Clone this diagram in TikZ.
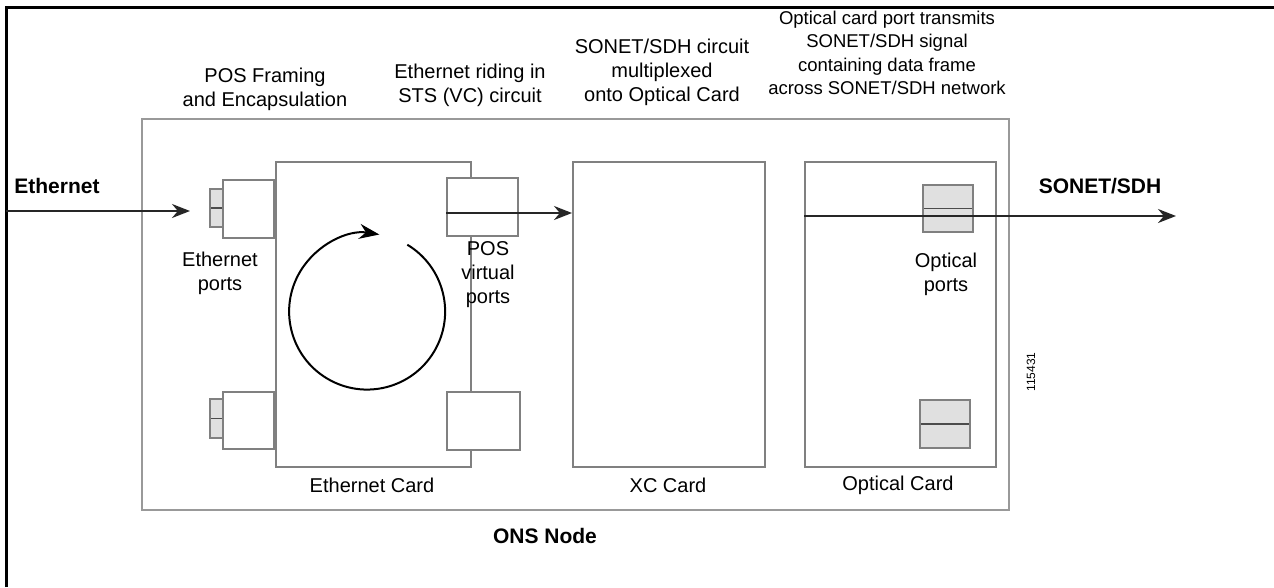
\documentclass[tikz,border=0pt]{standalone}
\usepackage{fontspec}
\setmainfont{Liberation Sans}
\usetikzlibrary{arrows.meta}
\begin{document}
\begin{tikzpicture}[x=1pt,y=-1pt,
  box/.style={draw=black!50, line width=1.6pt, fill=white, inner sep=0pt, anchor=north west},
  outerbox/.style={draw=black!40, line width=1.6pt, inner sep=0pt, anchor=north west},
  tab/.style={draw=black!50, line width=1.6pt, fill=black!12, inner sep=0pt, anchor=north west,
     path picture={\draw[black!70, line width=1.5pt] (path picture bounding box.west) -- (path picture bounding box.east);}},
  lbl/.style={font=\fontsize{20}{24}\selectfont, align=center, inner sep=0pt},
  blbl/.style={font=\fontsize{21}{24}\selectfont\bfseries, inner sep=0pt},
  sig/.style={draw=black!85, line width=2pt, -{Stealth[length=18pt,width=14pt]}},
  frame/.style={draw=black, line width=3pt}
]
\useasboundingbox (0,0) rectangle (1274,587);
\fill[white] (0,0) rectangle (1274,587);
\coordinate (fbl) at (6,587);
\coordinate (ftl) at (6,7);
\coordinate (ftr) at (1274,7);
\draw[frame] (fbl) -- (ftl) -- (ftr);

% ONS node
\node[outerbox, minimum width=867pt, minimum height=391pt] (ons) at (141,118) {};

% cards
\node[box, minimum width=195pt, minimum height=305pt] (ethcard) at (275,161) {};
\node[box, minimum width=192pt, minimum height=305pt] (xccard) at (572,161) {};
\node[box, minimum width=191pt, minimum height=305pt] (optcard) at (804,161) {};

% ethernet ports
\node[box, minimum width=51pt, minimum height=58pt] (ep1) at (222,179) {};
\node[tab, minimum width=13pt, minimum height=38pt] (et1) at (209,188) {};
\node[box, minimum width=51pt, minimum height=57pt] (ep2) at (222,391) {};
\node[tab, minimum width=13pt, minimum height=39pt] (et2) at (209,398) {};

% POS virtual ports
\node[box, minimum width=71pt, minimum height=58pt] (pos1) at (446,177) {};
\node[box, minimum width=73pt, minimum height=58pt] (pos2) at (446,391) {};

% optical ports
\node[tab, minimum width=50pt, minimum height=47pt] (op1) at (922,184) {};
\node[tab, minimum width=50pt, minimum height=48pt] (op2) at (919,399) {};

% circle with arrow
\draw[black, line width=2pt, -{Stealth[length=20pt,width=15pt]}] (407.3,244.7) arc[start angle=-59, end angle=279, radius=78];

% arrows
\coordinate (ethy) at (0,211);
\coordinate (ethtip) at (190,211);
\draw[sig] (ftl |- ethy) -- (ethtip);
\coordinate (posy) at (0,213);
\draw[sig] (pos1.west |- posy) -- (xccard.west |- posy);
\coordinate (sony) at (0,216);
\coordinate (sontip) at (1176,216);
\draw[sig] (optcard.west |- sony) -- (sontip);

% labels
\node[lbl] (t1) at (265,89) {POS Framing\\and Encapsulation};
\node[lbl] (t2) at (470,85) {Ethernet riding in\\STS (VC) circuit};
\node[lbl] (t3) at (662,72) {SONET/SDH circuit\\multiplexed\\onto Optical Card};
\node[lbl, font=\fontsize{18.5}{23.5}\selectfont] (t4) at (887,53) {Optical card port transmits\\SONET/SDH signal\\containing data frame\\across SONET/SDH network};

\node[blbl] (leth) at (57,186) {Ethernet};
\node[blbl] (lson) at (1100,186) {SONET/SDH};

\node[lbl] (lep) at (220,273) {Ethernet\\ports};
\node[lbl] (lpos) at (488,275) {POS\\virtual\\ports};
\node[lbl] (lop) at (946,274) {Optical\\ports};

\node[lbl] (lec) at (372,485) {Ethernet Card};
\node[lbl] (lxc) at (668,485) {XC Card};
\node[lbl] (loc) at (898,485) {Optical Card};
\node[blbl] (lons) at (545,536) {ONS Node};
\node[font=\fontsize{12}{14}\selectfont, rotate=90, inner sep=0pt] (fig) at (1031,372) {115431};
\end{tikzpicture}
\end{document}
